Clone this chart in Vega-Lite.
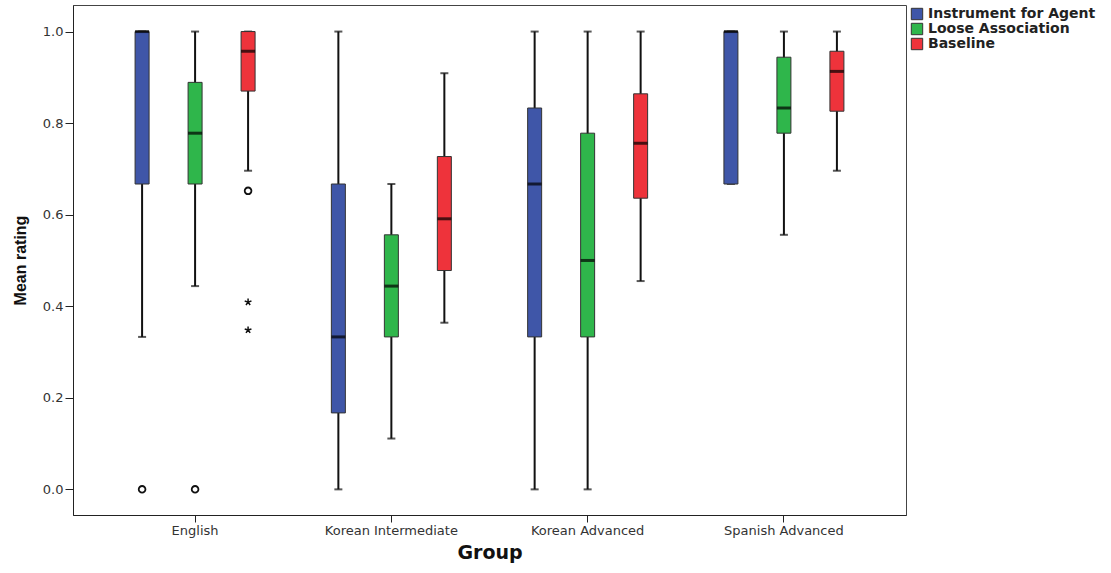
{
  "$schema": "https://vega.github.io/schema/vega-lite/v6.json",
  "autosize": {"type": "none"},
  "padding": {"left": 73, "top": 5, "right": 205, "bottom": 58},
  "width": 833,
  "height": 510,
  "background": "white",
  "datasets": {
    "boxes": [
      {"group": "English", "condition": "Instrument for Agent", "min": 0.333, "q1": 0.667, "median": 1.0, "q3": 1.0, "max": 1.0},
      {"group": "English", "condition": "Loose Association", "min": 0.444, "q1": 0.667, "median": 0.778, "q3": 0.889, "max": 1.0},
      {"group": "English", "condition": "Baseline", "min": 0.696, "q1": 0.87, "median": 0.957, "q3": 1.0, "max": 1.0},
      {"group": "Korean Intermediate", "condition": "Instrument for Agent", "min": 0.0, "q1": 0.167, "median": 0.333, "q3": 0.667, "max": 1.0},
      {"group": "Korean Intermediate", "condition": "Loose Association", "min": 0.111, "q1": 0.333, "median": 0.444, "q3": 0.556, "max": 0.667},
      {"group": "Korean Intermediate", "condition": "Baseline", "min": 0.364, "q1": 0.478, "median": 0.591, "q3": 0.727, "max": 0.909},
      {"group": "Korean Advanced", "condition": "Instrument for Agent", "min": 0.0, "q1": 0.333, "median": 0.667, "q3": 0.833, "max": 1.0},
      {"group": "Korean Advanced", "condition": "Loose Association", "min": 0.0, "q1": 0.333, "median": 0.5, "q3": 0.778, "max": 1.0},
      {"group": "Korean Advanced", "condition": "Baseline", "min": 0.455, "q1": 0.636, "median": 0.756, "q3": 0.864, "max": 1.0},
      {"group": "Spanish Advanced", "condition": "Instrument for Agent", "min": 0.667, "q1": 0.667, "median": 1.0, "q3": 1.0, "max": 1.0},
      {"group": "Spanish Advanced", "condition": "Loose Association", "min": 0.556, "q1": 0.778, "median": 0.833, "q3": 0.944, "max": 1.0},
      {"group": "Spanish Advanced", "condition": "Baseline", "min": 0.696, "q1": 0.826, "median": 0.913, "q3": 0.957, "max": 1.0}
    ],
    "outliers": [
      {"group": "English", "condition": "Instrument for Agent", "value": 0.0, "kind": "outlier"},
      {"group": "English", "condition": "Loose Association", "value": 0.0, "kind": "outlier"},
      {"group": "English", "condition": "Baseline", "value": 0.652, "kind": "outlier"},
      {"group": "English", "condition": "Baseline", "value": 0.409, "kind": "extreme"},
      {"group": "English", "condition": "Baseline", "value": 0.348, "kind": "extreme"}
    ]
  },
  "config": {
    "view": {"stroke": "#444", "strokeWidth": 1},
    "axis": {
      "labelFont": "DejaVu Sans",
      "labelFontSize": 13,
      "labelColor": "#333",
      "domainColor": "#222",
      "tickColor": "#222",
      "grid": false
    },
    "legend": {
      "labelFont": "DejaVu Sans",
      "labelFontSize": 14,
      "labelFontWeight": "bold",
      "labelColor": "#222",
      "labelLimit": 400
    }
  },
  "layer": [
    {
      "data": {"name": "boxes"},
      "mark": {"type": "rule", "color": "#111", "strokeWidth": 2},
      "encoding": {
        "x": {"field": "group", "type": "nominal", "title": "Group",
              "scale": {"domain": ["English", "Korean Intermediate", "Korean Advanced", "Spanish Advanced"], "paddingInner": 0.19, "paddingOuter": 0.217},
              "axis": {"labelAngle": 0, "tickSize": 7, "labelPadding": 2, "titleFont": "DejaVu Sans", "titleFontSize": 19, "titleFontWeight": "bold", "titleColor": "#111", "titlePadding": 6}},
        "xOffset": {"field": "condition", "type": "nominal", "scale": {"domain": ["Instrument for Agent", "Loose Association", "Baseline"], "paddingInner": 0, "paddingOuter": 0}},
        "y": {"field": "min", "type": "quantitative", "title": "Mean rating",
              "scale": {"domain": [-0.056, 1.058], "nice": false, "zero": false},
              "axis": {"values": [0, 0.2, 0.4, 0.6, 0.8, 1.0], "format": ".1f", "tickSize": 8, "labelPadding": 2, "titleFont": "Liberation Sans", "titleFontSize": 16, "titleFontWeight": "bold", "titleColor": "#111", "titlePadding": 14}},
        "y2": {"field": "max"}
      }
    },
    {
      "data": {"name": "boxes"},
      "mark": {"type": "tick", "color": "#111", "size": 8, "thickness": 2},
      "encoding": {
        "x": {"field": "group", "type": "nominal", "title": "Group"},
        "xOffset": {"field": "condition", "type": "nominal"},
        "y": {"field": "min", "type": "quantitative", "title": "Mean rating"}
      }
    },
    {
      "data": {"name": "boxes"},
      "mark": {"type": "tick", "color": "#111", "size": 8, "thickness": 2},
      "encoding": {
        "x": {"field": "group", "type": "nominal", "title": "Group"},
        "xOffset": {"field": "condition", "type": "nominal"},
        "y": {"field": "max", "type": "quantitative", "title": "Mean rating"}
      }
    },
    {
      "data": {"name": "boxes"},
      "mark": {"type": "bar", "width": 14, "stroke": "#333", "strokeWidth": 1, "opacity": 1},
      "encoding": {
        "x": {"field": "group", "type": "nominal", "title": "Group"},
        "xOffset": {"field": "condition", "type": "nominal"},
        "y": {"field": "q1", "type": "quantitative", "title": "Mean rating"},
        "y2": {"field": "q3"},
        "color": {"field": "condition", "type": "nominal",
                  "scale": {"domain": ["Instrument for Agent", "Loose Association", "Baseline"], "range": ["#3F56A8", "#2FB64B", "#EE333B"]},
                  "legend": {"title": null, "orient": "none", "legendX": 837, "legendY": 2, "symbolType": "square", "symbolSize": 130, "symbolStrokeColor": "#333", "symbolStrokeWidth": 1, "symbolOpacity": 1, "rowPadding": -4, "labelOffset": 4, "padding": 0, "labelLimit": 400}}
      }
    },
    {
      "data": {"name": "boxes"},
      "mark": {"type": "tick", "color": "#000", "size": 14, "thickness": 3},
      "encoding": {
        "x": {"field": "group", "type": "nominal", "title": "Group"},
        "xOffset": {"field": "condition", "type": "nominal"},
        "y": {"field": "median", "type": "quantitative", "title": "Mean rating"}
      }
    },
    {
      "data": {"name": "outliers"},
      "transform": [{"filter": "datum.kind === 'outlier'"}],
      "mark": {"type": "point", "shape": "circle", "filled": false, "color": "#111", "strokeWidth": 1.8, "size": 45, "opacity": 1},
      "encoding": {
        "x": {"field": "group", "type": "nominal", "title": "Group"},
        "xOffset": {"field": "condition", "type": "nominal"},
        "y": {"field": "value", "type": "quantitative", "title": "Mean rating"}
      }
    },
    {
      "data": {"name": "outliers"},
      "transform": [{"filter": "datum.kind === 'extreme'"}],
      "mark": {"type": "point", "shape": "M0,-1L0,0M0,0L0.95,-0.31M0,0L0.59,0.81M0,0L-0.59,0.81M0,0L-0.95,-0.31", "filled": false, "color": "#111", "strokeWidth": 1.5, "size": 50, "opacity": 1},
      "encoding": {
        "x": {"field": "group", "type": "nominal", "title": "Group"},
        "xOffset": {"field": "condition", "type": "nominal"},
        "y": {"field": "value", "type": "quantitative", "title": "Mean rating"}
      }
    }
  ]
}
